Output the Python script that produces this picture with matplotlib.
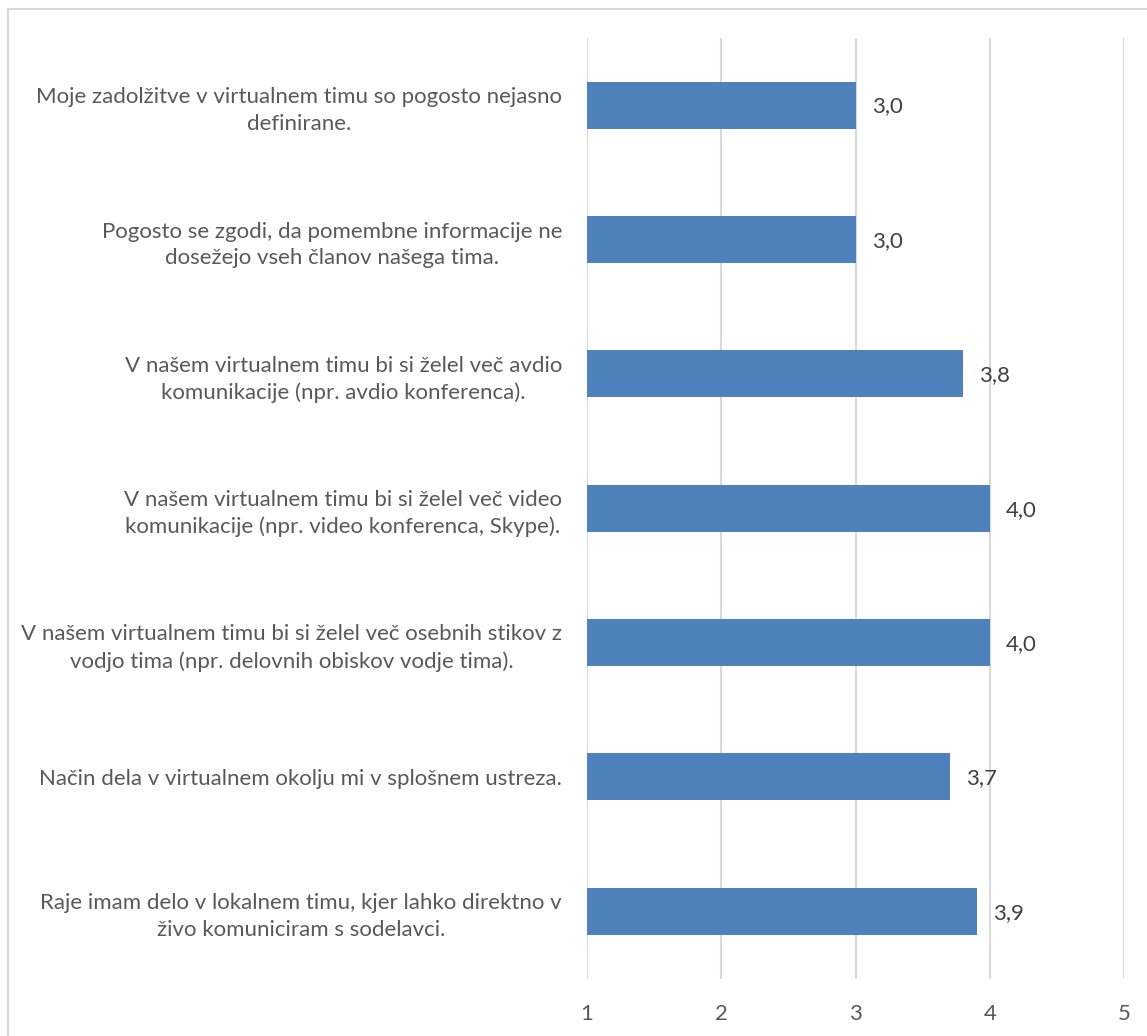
import numpy as np
import matplotlib.pyplot as plt
from matplotlib.patches import Rectangle

plt.rcParams['font.family'] = ['Lato', 'DejaVu Sans']

# trditve (od zgoraj navzdol) in povprečne ocene
trditve = [
    'Moje zadolžitve v virtualnem timu so pogosto nejasno\ndefinirane.',
    'Pogosto se zgodi, da pomembne informacije ne\ndosežejo vseh članov našega tima.',
    'V našem virtualnem timu bi si želel več avdio\nkomunikacije (npr. avdio konferenca).',
    'V našem virtualnem timu bi si želel več video\nkomunikacije (npr. video konferenca, Skype).',
    'V našem virtualnem timu bi si želel več osebnih stikov z\nvodjo tima (npr. delovnih obiskov vodje tima).',
    'Način dela v virtualnem okolju mi v splošnem ustreza.',
    'Raje imam delo v lokalnem timu, kjer lahko direktno v\nživo komuniciram s sodelavci.',
]
ocene = [3.0, 3.0, 3.8, 4.0, 4.0, 3.7, 3.9]
x_ticks = [1, 2, 3, 4, 5]

fig = plt.figure(figsize=(11.47, 10.36), dpi=100, facecolor='w')
ax = fig.add_axes([0.5118, 0.0555, 0.4685, 0.9078])

y = np.arange(len(trditve))
ax.barh(y, np.array(ocene) - 1, left=1, height=0.35, color='#4F81BD', zorder=3)
for yi, v in zip(y, ocene):
    ax.text(v + 0.12, yi + 0.01, f'{v:.1f}'.replace('.', ','), va='center', ha='left',
            fontsize=16, color='#404040')

ax.set_xlim(1, 5)
ax.set_ylim(len(trditve) - 0.5, -0.5)
ax.set_xticks(x_ticks)
ax.set_xticklabels([str(t) for t in x_ticks], fontsize=16, color='#595959')
ax.set_yticks(y)
ax.set_yticklabels(trditve, fontsize=16, color='#595959', multialignment='center',
                   linespacing=1.4)
ax.tick_params(axis='both', length=0)
ax.tick_params(axis='y', pad=18)
ax.tick_params(axis='x', pad=18)
ax.grid(axis='x', color='#D9D9D9', lw=1.5, zorder=0)
for s in ax.spines.values():
    s.set_visible(False)

# okvir grafikona
fig.patches.append(Rectangle((8 / 1147, -0.01), 1.2, 1 - 9 / 1036 + 0.01,
                             transform=fig.transFigure, fill=False,
                             edgecolor='#D9D9D9', lw=1.5))

fig.savefig('out.png', dpi=100, facecolor='w')
